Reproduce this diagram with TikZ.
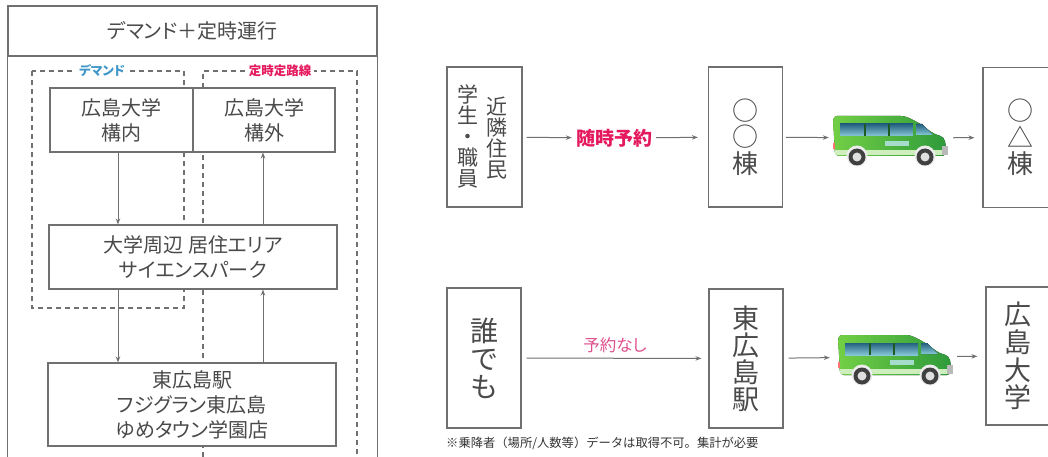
\documentclass[tikz,border=0pt]{standalone}
\usepackage{fontspec}
\setmainfont{Noto Sans CJK JP}[RawFeature=+palt]
\newfontfamily\fulljp{Noto Sans CJK JP}
\usetikzlibrary{arrows.meta,positioning}

\definecolor{txtgray}{HTML}{4A4A4A}
\definecolor{linegray}{HTML}{707070}
\definecolor{rsvred}{HTML}{E5195E}
\definecolor{freepink}{HTML}{DE4F8C}
\definecolor{demandblue}{HTML}{3F97C9}
\definecolor{vanlight}{HTML}{72CF45}
\definecolor{vandark}{HTML}{2E9A3A}
\definecolor{glassdark}{HTML}{24607F}
\definecolor{glasslight}{HTML}{86C8D6}
\definecolor{signteal}{HTML}{A6DCCB}

\tikzset{
  minivan/.pic={
    \fill[left color=vanlight, right color=vandark, rounded corners=4pt]
      (-54,18) -- (-56,-22) -- (16,-22) -- (30,-15) -- (45,-4) -- (55,-1) -- (57,8) -- (57,18) -- cycle;
    \fill[vanlight!35!white] (-54,12) rectangle (56,17);
    \fill[top color=glassdark, bottom color=glasslight] (-49,-14) rectangle (24,-2);
    \fill[top color=glassdark, bottom color=glasslight] (27,-14) -- (33,-14) -- (44,-3) -- (27,-3) -- cycle;
    \draw[vandark!60!black, line width=1.2pt] (-24,-14) -- (-24,-2) (0,-14) -- (0,-2);
    \fill[signteal] (-4,3) rectangle (20,8);
    \fill[gray!55] (53,8) rectangle (59,17);
    \fill[red!55] (-56,5) rectangle (-54,11);
    \foreach \wx in {-32,36} {
      \fill[white!85!gray] (\wx,18) circle (10.5);
      \fill[black!75] (\wx,19) circle (8.5);
      \fill[gray!25] (\wx,19) circle (4.5);
    }
  }
}

\begin{document}
\begin{tikzpicture}[x=1pt, y=-1pt,
    box/.style={draw=linegray, fill=white, line width=1.1pt, inner sep=0pt, align=center, text=txtgray, font=\fontsize{20}{25}\selectfont},
    vbox/.style={draw=linegray, fill=white, line width=1.1pt, inner sep=0pt, align=center, text=txtgray, minimum width=74pt, minimum height=140pt},
    vtext/.style={inner sep=0pt, align=center, text=txtgray, font=\fontsize{21}{21}\selectfont},
    zone/.style={draw=linegray, dash pattern=on 5pt off 4pt, line width=1.1pt},
    zonelabel/.style={fill=white, inner sep=3pt, font=\bfseries\fontsize{12.5}{14}\selectfont},
    flow/.style={draw=linegray, line width=1pt, -{Stealth[length=6pt,width=4.5pt]}},
    vanbox/.style={inner sep=0pt, minimum width=114pt, minimum height=50pt}]
  \useasboundingbox (0,0) rectangle (1048,457);
  \clip (0,0) rectangle (1048,457);

  % left panel: demand + fixed route
  \node[box, minimum width=369pt, minimum height=50pt] (title) at (192.5,31) {デマンド＋定時運行};
  \draw[draw=linegray, line width=1.1pt] (title.south west) -- ++(0,430);
  \draw[draw=linegray, line width=1.1pt] (title.south east) -- ++(0,430);

  \draw[zone] (32,71) rectangle (184,308);
  \draw[zone] (203,475) -- (203,71) -- (357,71) -- (357,475);
  \node[zonelabel, text=demandblue] (demand) at (102,71) {デマンド};
  \node[zonelabel, text=rsvred] (fixed) at (280,71) {定時定路線};

  \node[box, minimum width=143pt, minimum height=64pt] (campin) at (121.5,120) {広島大学\\構内};
  \node[box, minimum width=142pt, minimum height=64pt] (campout) at (264,120) {広島大学\\構外};
  \node[box, minimum width=288pt, minimum height=64pt] (area) at (193,257) {大学周辺 居住エリア\\サイエンスパーク};
  \node[box, minimum width=288pt, minimum height=83pt] (station) at (192,404.5) {東広島駅\\フジグラン東広島\\ゆめタウン学園店};

  \coordinate (dn) at (118,0);
  \coordinate (up) at (263,0);
  \draw[flow] (campin.south -| dn) -- (area.north -| dn);
  \draw[flow] (area.south -| dn) -- (station.north -| dn);
  \draw[flow] (area.north -| up) -- (campout.south -| up);
  \draw[flow] (station.north -| up) -- (area.south -| up);

  % right panel: top row
  \node[vbox, minimum width=75pt] (riders) at (484.5,137) {};
  \node[vtext] (staff) at (468,136) {学\\生\\・\\職\\員};
  \node[vtext] (locals) at (497,138) {近\\隣\\住\\民};
  \node[vbox, font=\fontsize{26}{26.5}\selectfont] (bldgA) at (745.5,137) {○\\○\\棟};
  \node[vanbox] (van1) at (889,138) {};
  \pic at (van1.center) {minivan};
  \node[vbox, font=\fontsize{26}{26.5}\selectfont] (bldgB) at (1020,137.5) {○\\△\\棟};

  \node[inner sep=4pt, text=rsvred, font=\bfseries\fontsize{19}{20}\selectfont] (rsv) at (614,138) {随時予約};
  \draw[flow, shorten <=4pt] (riders) -- (rsv);
  \draw[flow, shorten >=10pt] (rsv) -- (bldgA);
  \draw[flow, shorten <=3pt, shorten >=3pt] (bldgA) -- (van1);
  \draw[flow, shorten <=7pt, shorten >=8pt] (van1) -- (bldgB);

  % right panel: bottom row
  \node[vbox, font=\fontsize{28}{28}\selectfont] (anyone) at (484,358) {誰\\で\\も};
  \node[vbox, minimum height=139pt, font=\fontsize{27}{27}\selectfont] (station2) at (746,358.5) {東\\広\\島\\駅};
  \node[vanbox] (van2) at (894,357) {};
  \pic at (van2.center) {minivan};
  \node[vbox, minimum width=64pt, minimum height=138pt, font=\fontsize{27}{27.5}\selectfont] (univ) at (1018,356) {広\\島\\大\\学};

  \draw[flow, shorten <=5pt, shorten >=7pt] (anyone) -- node[above=2pt, text=freepink, font=\fontsize{16.5}{18}\selectfont] (nores) {予約なし} (station2);
  \draw[flow, shorten <=5pt, shorten >=7pt] (station2) -- (van2);
  \draw[flow, shorten <=6pt, shorten >=8pt] (van2) -- (univ);

  \node[anchor=west, inner sep=0pt, text=black!80, font=\fulljp\fontsize{12.3}{13}\selectfont] (note) at (446,443) {※乗降者（場所/人数等）データは取得不可。集計が必要};
\end{tikzpicture}
\end{document}
